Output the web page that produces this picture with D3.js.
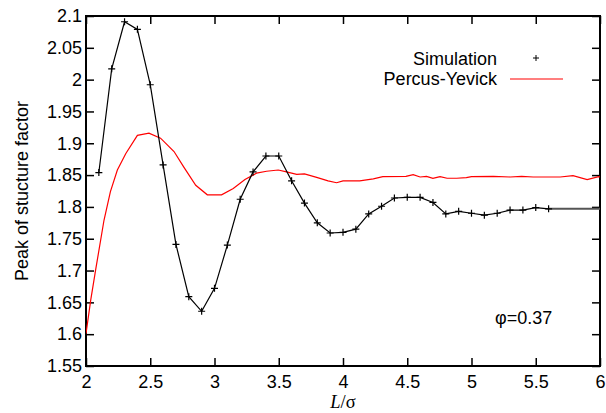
<!DOCTYPE html>
<html>
<head>
<meta charset="utf-8">
<script src="https://cdn.jsdelivr.net/npm/d3@7"></script>
<style>
  body { margin: 0; background: #fff; }
  svg { display: block; font-family: "Liberation Sans", Arial, sans-serif; }
</style>
</head>
<body>
<svg></svg>
<script>
// Simulation points (L/sigma, peak of S(k))
const simX = [2.1, 2.2, 2.3, 2.4, 2.5, 2.6, 2.7, 2.8, 2.9, 3.0, 3.1, 3.2, 3.3, 3.4, 3.5, 3.6, 3.7, 3.8,
              3.9, 4.0, 4.1, 4.2, 4.3, 4.4, 4.5, 4.6, 4.7, 4.8, 4.9, 5.0, 5.1, 5.2, 5.3, 5.4, 5.5, 5.6];
const simY = [1.854, 2.017, 2.091, 2.079, 1.992, 1.866, 1.741, 1.659, 1.636, 1.672, 1.740, 1.812, 1.855, 1.880, 1.880, 1.841, 1.806, 1.775,
              1.759, 1.760, 1.765, 1.789, 1.801, 1.814, 1.815, 1.815, 1.807, 1.789, 1.793, 1.790, 1.787, 1.790, 1.795, 1.795, 1.799, 1.797];
// flat tail of the simulation curve past the last marker
const tailX = [5.6, 6.0];
const tailY = [1.797, 1.797];

// Percus-Yevick curve
const pyX = [2.0, 2.037, 2.075, 2.14, 2.19, 2.244, 2.31, 2.40, 2.49, 2.58, 2.685, 2.76, 2.854, 2.944,
             3.055, 3.146, 3.237, 3.327, 3.405, 3.496, 3.56, 3.64, 3.70, 3.795, 3.884, 3.95,
             4.0, 4.13, 4.236, 4.31, 4.49, 4.546, 4.60, 4.65, 4.70, 4.755, 4.81, 4.885, 4.96,
             5.0, 5.17, 5.30, 5.39, 5.48, 5.69, 5.79, 5.90, 5.99, 6.0];
const pyY = [1.601, 1.654, 1.701, 1.779, 1.824, 1.858, 1.884, 1.9125, 1.916, 1.908, 1.887, 1.863, 1.834, 1.819,
             1.819, 1.829, 1.843, 1.853, 1.856, 1.858, 1.855, 1.851, 1.852, 1.8465, 1.841, 1.838,
             1.841, 1.841, 1.844, 1.8475, 1.848, 1.8507, 1.847, 1.848, 1.845, 1.8475, 1.845, 1.845, 1.846,
             1.8475, 1.848, 1.847, 1.848, 1.847, 1.847, 1.849, 1.843, 1.8475, 1.847];

// Axis ticks
const xTicks = [2, 2.5, 3, 3.5, 4, 4.5, 5, 5.5, 6];
const yTicks = [1.55, 1.6, 1.65, 1.7, 1.75, 1.8, 1.85, 1.9, 1.95, 2, 2.05, 2.1];

const width = 606, height = 413;
const margin = { top: 16, right: 6, bottom: 47, left: 86 };
const plotW = width - margin.left - margin.right;
const plotH = height - margin.top - margin.bottom;

const svg = d3.select("svg").attr("width", width).attr("height", height);

const x = d3.scaleLinear().domain([2, 6]).range([0, plotW]);
const y = d3.scaleLinear().domain([1.55, 2.1]).range([plotH, 0]);

const g = svg.append("g").attr("transform", `translate(${margin.left},${margin.top})`);

// clip to plot area
svg.append("defs").append("clipPath").attr("id", "clip")
  .append("rect").attr("width", plotW).attr("height", plotH);

// axes, ticks pointing inward on all four sides
const fmt = d => String(d);
const axBottom = g.append("g").attr("transform", `translate(0,${plotH})`)
  .call(d3.axisBottom(x).tickValues(xTicks).tickFormat(fmt).tickSize(-8).tickPadding(9));
const axLeft = g.append("g")
  .call(d3.axisLeft(y).tickValues(yTicks).tickFormat(fmt).tickSize(-8).tickPadding(4));
const axTop = g.append("g")
  .call(d3.axisTop(x).tickValues(xTicks).tickFormat("").tickSize(-8));
const axRight = g.append("g").attr("transform", `translate(${plotW},0)`)
  .call(d3.axisRight(y).tickValues(yTicks).tickFormat("").tickSize(-8));

[axBottom, axLeft, axTop, axRight].forEach(a => {
  a.select(".domain").remove();
  a.selectAll(".tick line").attr("stroke", "#000").attr("stroke-width", 1.5);
  a.selectAll("text").attr("font-size", 18).attr("fill", "#000")
    .attr("font-family", "Liberation Sans, Arial, sans-serif");
});

// frame
g.append("rect").attr("width", plotW).attr("height", plotH)
  .attr("fill", "none").attr("stroke", "#000").attr("stroke-width", 2);

const plot = g.append("g").attr("clip-path", "url(#clip)");

const line = d3.line().x(d => x(d[0])).y(d => y(d[1]));

// Percus-Yevick
plot.append("path").datum(d3.zip(pyX, pyY))
  .attr("d", line).attr("fill", "none").attr("stroke", "#ff0000").attr("stroke-width", 1.2);

// Simulation tail
plot.append("path").datum(d3.zip(tailX, tailY))
  .attr("d", line).attr("fill", "none").attr("stroke", "#555").attr("stroke-width", 2);

// Simulation line + markers
const sim = d3.zip(simX, simY);
plot.append("path").datum(sim)
  .attr("d", line).attr("fill", "none").attr("stroke", "#000").attr("stroke-width", 1.2);

const m = 3.5;
plot.selectAll(".pt").data(sim).join("path")
  .attr("class", "pt")
  .attr("d", d => `M${x(d[0]) - m},${y(d[1])}H${x(d[0]) + m}M${x(d[0])},${y(d[1]) - m}V${y(d[1]) + m}`)
  .attr("stroke", "#000").attr("stroke-width", 1.2);

// legend
const leg = svg.append("g");
leg.append("text").attr("x", 497).attr("y", 65).attr("text-anchor", "end")
  .attr("font-size", 18).text("Simulation");
leg.append("path")
  .attr("d", `M${536 - 3},58H${536 + 3}M536,${58 - 3}V${58 + 3}`)
  .attr("stroke", "#000").attr("stroke-width", 1);
leg.append("text").attr("x", 497).attr("y", 85).attr("text-anchor", "end")
  .attr("font-size", 18).text("Percus-Yevick");
leg.append("line").attr("x1", 510).attr("x2", 563).attr("y1", 79).attr("y2", 79)
  .attr("stroke", "#ff0000").attr("stroke-width", 1.2);

// phi annotation
svg.append("text").attr("x", 495).attr("y", 324).attr("font-size", 18).text("φ=0.37");

// axis titles
svg.append("text")
  .attr("transform", `translate(28,${margin.top + plotH / 2}) rotate(-90)`)
  .attr("text-anchor", "middle").attr("font-size", 18)
  .text("Peak of stucture factor");

const xl = svg.append("text").attr("x", margin.left + plotW / 2).attr("y", 408)
  .attr("text-anchor", "middle").attr("font-size", 18.5)
  .attr("font-family", "Liberation Serif, Times New Roman, serif");
xl.append("tspan").attr("font-style", "italic").text("L");
xl.append("tspan").text("/σ");
</script>
</body>
</html>
